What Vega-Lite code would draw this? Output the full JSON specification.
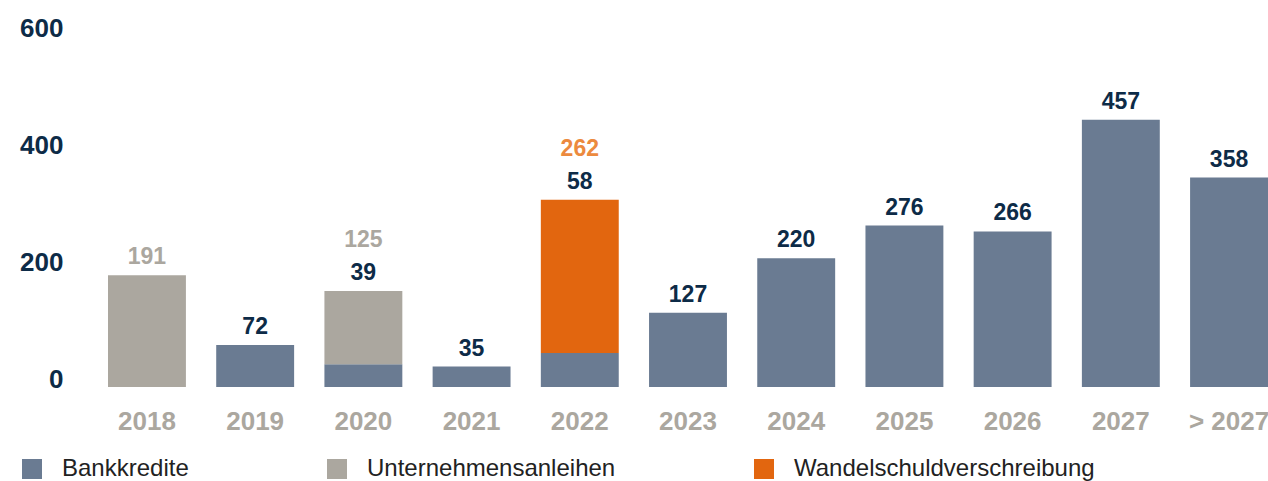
{
  "$schema": "https://vega.github.io/schema/vega-lite/v6.json",
  "autosize": {"type": "none"},
  "padding": {"left": 108, "top": 36, "right": 0, "bottom": 94},
  "width": 1160,
  "height": 351,
  "background": "white",
  "config": {"view": {"stroke": null}},
  "data": {"values": [
    {"jahr": "2018", "art": "Unternehmensanleihen", "wert": 191},
    {"jahr": "2019", "art": "Bankkredite", "wert": 72},
    {"jahr": "2020", "art": "Bankkredite", "wert": 39},
    {"jahr": "2020", "art": "Unternehmensanleihen", "wert": 125},
    {"jahr": "2021", "art": "Bankkredite", "wert": 35},
    {"jahr": "2022", "art": "Bankkredite", "wert": 58},
    {"jahr": "2022", "art": "Wandelschuldverschreibung", "wert": 262},
    {"jahr": "2023", "art": "Bankkredite", "wert": 127},
    {"jahr": "2024", "art": "Bankkredite", "wert": 220},
    {"jahr": "2025", "art": "Bankkredite", "wert": 276},
    {"jahr": "2026", "art": "Bankkredite", "wert": 266},
    {"jahr": "2027", "art": "Bankkredite", "wert": 457},
    {"jahr": "> 2027", "art": "Bankkredite", "wert": 358}
  ]},
  "transform": [
    {"joinaggregate": [{"op": "sum", "field": "wert", "as": "total"}, {"op": "count", "as": "n"}], "groupby": ["jahr"]}
  ],
  "encoding": {
    "x": {
      "field": "jahr", "type": "nominal", "sort": null,
      "scale": {"paddingInner": 0.28, "paddingOuter": 0},
      "axis": {
        "title": null, "domain": false, "ticks": false, "labelAngle": 0,
        "labelFont": "Liberation Sans", "labelFontWeight": "bold", "labelFontSize": 26,
        "labelColor": "#aba79f", "labelPadding": 21, "labelBaseline": "top", "labelLimit": 200
      }
    }
  },
  "layer": [
    {
      "mark": {"type": "bar"},
      "encoding": {
        "y": {
          "field": "wert", "type": "quantitative", "aggregate": "sum",
          "scale": {"domain": [0, 600], "nice": false},
          "axis": {
            "title": null, "values": [0, 200, 400, 600], "grid": false, "domain": false, "ticks": false,
            "labelFont": "Liberation Sans", "labelFontWeight": "bold", "labelFontSize": 26,
            "labelColor": "#0d2b47", "labelPadding": 45, "labelBaseline": "alphabetic"
          }
        },
        "order": {"field": "art", "sort": "ascending"},
        "color": {
          "field": "art", "type": "nominal",
          "scale": {"domain": ["Bankkredite", "Unternehmensanleihen", "Wandelschuldverschreibung"], "range": ["#6a7b92", "#aba79f", "#e2660f"]},
          "legend": {
            "title": null, "orient": "none", "legendX": -88, "legendY": 421, "direction": "horizontal",
            "symbolType": "square", "symbolSize": 400, "symbolStrokeWidth": 0,
            "labelFont": "Liberation Sans", "labelFontSize": 24, "labelColor": "#222222", "labelLimit": 500,
            "labelOffset": 18, "columnPadding": 136, "gridAlign": "each"
          }
        }
      }
    },
    {
      "transform": [{"filter": "datum.art === 'Bankkredite'"}],
      "mark": {"type": "text", "dy": -11, "baseline": "alphabetic", "font": "Liberation Sans", "fontWeight": "bold", "fontSize": 23, "color": "#0d2b47"},
      "encoding": {
        "y": {"field": "total", "type": "quantitative"},
        "text": {"field": "wert", "type": "quantitative"}
      }
    },
    {
      "transform": [{"filter": "datum.art !== 'Bankkredite' && datum.n == 1"}],
      "mark": {"type": "text", "dy": -11, "baseline": "alphabetic", "font": "Liberation Sans", "fontWeight": "bold", "fontSize": 23, "color": "#aba79f"},
      "encoding": {
        "y": {"field": "total", "type": "quantitative"},
        "text": {"field": "wert", "type": "quantitative"}
      }
    },
    {
      "transform": [{"filter": "datum.art === 'Unternehmensanleihen' && datum.n == 2"}],
      "mark": {"type": "text", "dy": -44, "baseline": "alphabetic", "font": "Liberation Sans", "fontWeight": "bold", "fontSize": 23, "color": "#aba79f"},
      "encoding": {
        "y": {"field": "total", "type": "quantitative"},
        "text": {"field": "wert", "type": "quantitative"}
      }
    },
    {
      "transform": [{"filter": "datum.art === 'Wandelschuldverschreibung'"}],
      "mark": {"type": "text", "dy": -44, "baseline": "alphabetic", "font": "Liberation Sans", "fontWeight": "bold", "fontSize": 23, "color": "#ec8a3e"},
      "encoding": {
        "y": {"field": "total", "type": "quantitative"},
        "text": {"field": "wert", "type": "quantitative"}
      }
    }
  ]
}
